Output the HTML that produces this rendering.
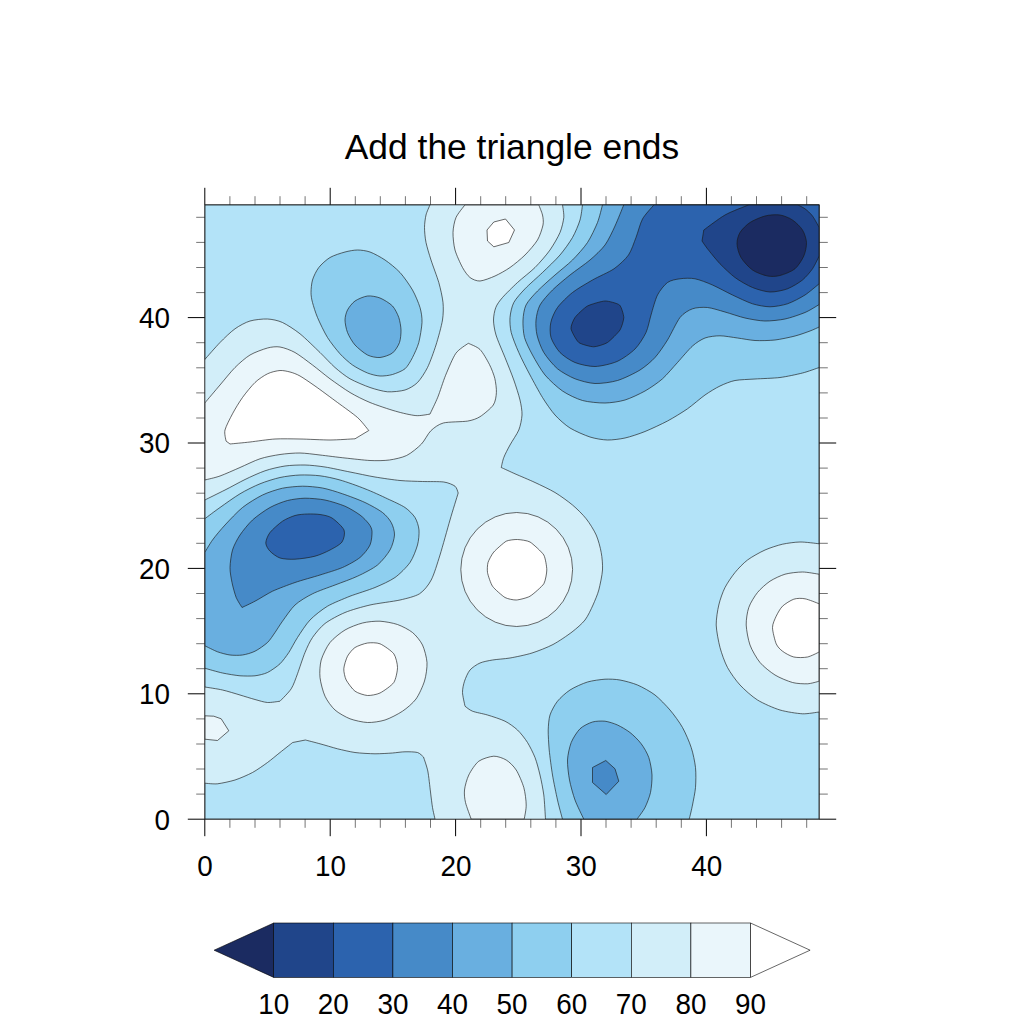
<!DOCTYPE html>
<html><head><meta charset="utf-8"><title>Add the triangle ends</title>
<style>html,body{margin:0;padding:0;background:#fff}body{width:1024px;height:1024px;overflow:hidden;font-family:"Liberation Sans",sans-serif}</style>
</head><body>
<svg width="1024" height="1024" viewBox="0 0 1024 1024" style="display:block">
<defs><clipPath id="fr"><rect x="204.8" y="204.8" width="614.4" height="614.4"/></clipPath></defs>
<rect x="0" y="0" width="1024" height="1024" fill="#fff"/>
<rect x="204.8" y="204.8" width="614.4" height="614.4" fill="#d2eef9"/>
<g clip-path="url(#fr)" stroke="#1a1a1a" stroke-width="0.65" stroke-linejoin="round">
<path d="M204.8 359.5C206.8 357.2 216 346.6 220 342.5C224 338.4 231 331.6 235 328.8C239 325.9 245.7 322.3 250 321C254.3 319.7 263.2 318.8 267.5 319C271.8 319.2 278.2 320.5 282.5 322.5C286.8 324.5 295 329.8 300 333.8C305 337.8 315.3 348 320 352.5C324.7 357 331 364 335 367.5C339 371 345.3 376.1 350 378.8C354.7 381.4 365 385.8 370 387.5C375 389.2 382.8 391.4 387.5 391.8C392.2 392.1 401 391.2 405 390C409 388.8 414.5 385.5 417.5 382.5C420.5 379.5 425 372.5 427.5 367.5C430 362.5 434 351.3 436 345C438 338.7 441.6 325.7 442.5 320C443.4 314.3 443.5 307.5 443 302.5C442.5 297.5 440.4 288.2 438.8 282.5C437.1 276.8 432.7 265.3 431 260C429.3 254.7 426.9 246.8 426 242.5C425.1 238.2 424.5 231.2 424.5 227.5C424.5 223.8 425.3 218 426 215C426.7 212 429.5 206.2 430 204.8L204.8 204.8Z" fill="#b3e3f8"/>
<path d="M562.5 204.8C562.7 206.5 564.1 213.8 563.8 217.5C563.4 221.2 561.8 228.2 560 232.5C558.2 236.8 553.3 245.3 550 250C546.7 254.7 539.3 263.2 535 267.5C530.7 271.8 521.8 278.5 517.5 282.5C513.2 286.5 505.4 294.2 502.5 297.5C499.6 300.8 496.9 304.5 495.8 307.5C494.6 310.5 493.5 316.3 493.5 320C493.5 323.7 494.5 330 496 335C497.5 340 502.6 351.5 505 357.5C507.4 363.5 511.8 374.3 513.8 380C515.8 385.7 518.9 395.3 520 400C521.1 404.7 522.2 411 522 415C521.8 419 520.4 426 518.8 430C517.1 434 512 441.3 510 445C508 448.7 504.9 454.5 503.8 457.5C502.6 460.5 501.6 466.2 501.2 467.5C503.1 468.3 510.5 471.8 515 473.8C519.5 475.8 529.7 480 535 482.5C540.3 485 550 489.5 555 492.5C560 495.5 568.3 501.5 572.5 505C576.7 508.5 583.1 514.8 586.2 518.8C589.4 522.8 594.2 530.5 596.2 535C598.2 539.5 600.4 547.8 601.2 552.5C602.1 557.2 602.8 565 602.5 570C602.2 575 600 585.3 598.8 590C597.5 594.7 594.8 601 593 605C591.2 609 587.8 616.4 585 620C582.2 623.6 576.3 628.7 572 632C567.7 635.3 558.3 641.7 553 644.5C547.7 647.3 537.7 651.2 532 653C526.3 654.8 515.3 657.1 510 658C504.7 658.9 496.5 659.3 492.5 660C488.5 660.7 483 661.7 480 663C477 664.3 472.1 667.6 470 670C467.9 672.4 465.5 678.2 464.5 681.2C463.5 684.2 462.4 689.2 462.5 692.5C462.6 695.8 464.7 704.4 465 706.2C466 706.9 469.5 710.1 472.5 711.2C475.5 712.4 483.2 713.7 487.5 715C491.8 716.3 501 719.2 505 721.2C509 723.2 514.5 727.2 517.5 730C520.5 732.8 525.2 738.8 527.5 742.5C529.8 746.2 533.3 753.2 535 757.5C536.7 761.8 538.8 770 540 775C541.2 780 543 789.1 543.8 795C544.5 800.9 545.3 816 545.5 819.2L819.2 819.2L819.2 712C817 712.2 807.7 714 802.5 713.8C797.3 713.5 786 711.8 780 710C774 708.2 762.8 703.3 757.5 700C752.2 696.7 744 689.3 740 685C736 680.7 730.2 672.5 727.5 667.5C724.8 662.5 721.5 653.2 720 647.5C718.5 641.8 716.4 630.7 716.2 625C716.1 619.3 717.6 610 718.8 605C719.9 600 722.8 591.8 725 587.5C727.2 583.2 732 576.2 735 572.5C738 568.8 743.5 563 747.5 560C751.5 557 760.3 552.1 765 550C769.7 547.9 777.8 545.3 782.5 544.2C787.2 543.2 795.1 542.1 800 542C804.9 541.9 816.6 543.5 819.2 543.8L819.2 204.8Z" fill="#b3e3f8"/>
<path d="M204.8 500C207.5 498.7 219.6 492.7 225 490C230.4 487.3 239.7 482.1 245 479.5C250.3 476.9 259.7 472.6 265 470.8C270.3 468.9 279.7 466.8 285 466C290.3 465.2 299.7 464.9 305 465C310.3 465.1 319 466.1 325 467C331 467.9 343.3 470.7 350 472C356.7 473.3 368.3 475.9 375 477C381.7 478.1 393.7 479.9 400 480.5C406.3 481.1 416.7 481.3 422.5 481.5C428.3 481.7 439.4 481.4 443.8 482C448.1 482.6 453.1 484.8 455 486.2C456.9 487.7 457.8 492.1 458.2 493C457.1 496.6 452.4 511.7 450 520C447.6 528.3 442.5 547 440 555C437.5 563 434 574.8 431.2 580C428.5 585.2 423.7 591.1 419.5 593.8C415.3 596.4 406.6 598.5 400 600C393.4 601.5 377.3 603.3 370 605C362.7 606.7 351 610 345 612.5C339 615 329.3 620.2 325 623.5C320.7 626.8 315.2 633.6 312.5 637.5C309.8 641.4 307 647.7 305 652.5C303 657.3 299.3 668.9 297.5 673.8C295.7 678.6 293.6 685.1 291.2 688.8C288.9 692.4 281.5 699.6 280 701.2C278.3 701.4 270.8 702.7 267.5 702.5C264.2 702.3 258.7 700.5 255 699.5C251.3 698.5 244.3 696.3 240 695C235.7 693.7 227.2 691.1 222.5 690C217.8 688.9 207.2 687.4 204.8 687Z" fill="#b3e3f8"/>
<path d="M204.8 783.2C206.5 783.3 213.5 784.2 217.5 783.8C221.5 783.3 230.3 781.5 235 780C239.7 778.5 248.2 774.8 252.5 772.5C256.8 770.2 263.8 765.2 267.5 762.5C271.2 759.8 276.6 755.2 280 752.5C283.4 749.8 291 743.8 292.7 742.5L305.4 740C307.3 740.5 315.7 742.6 320 743.8C324.3 744.9 332.8 747.6 337.5 748.8C342.2 749.9 350 751.8 355 752.5C360 753.2 370 753.7 375 753.8C380 753.8 388.5 753.3 392.5 753C396.5 752.7 401.7 751.8 405 751.8C408.3 751.7 415 751.8 417.5 752.5C420 753.2 422.7 756.4 423.5 757C424.1 758.9 426.8 766.3 427.8 771C428.7 775.7 429.9 787.1 430.5 792C431.1 796.9 431.9 803.9 432.5 807.5C433.1 811.1 434.7 817.6 435 819.2L204.8 819.2Z" fill="#b3e3f8"/>
<path d="M465 204.8C463.8 206.5 457.6 213.8 456 217.5C454.4 221.2 453.1 228.2 453 232.5C452.9 236.8 453.7 245.3 455 250C456.3 254.7 460.5 263.8 462.5 267.5C464.5 271.2 467.7 275.7 470 277.5C472.3 279.3 476.7 281.2 480 281C483.3 280.8 491 277.8 495 276C499 274.2 506 270.3 510 267.5C514 264.7 521.3 258.7 525 255C528.7 251.3 535.1 244 537.5 240C539.9 236 542.3 228.3 543 225C543.7 221.7 543.1 217.7 542.5 215C541.9 212.3 539.2 206.2 538.8 204.8Z" fill="#eaf6fb"/>
<path d="M204.8 403C206.8 400.6 216 389.7 220 385C224 380.3 231 371.5 235 367.5C239 363.5 245.7 357.6 250 355C254.3 352.4 263.5 349.1 267.5 348C271.5 346.9 276.3 346.4 280 347C283.7 347.6 290.7 350.1 295 352.5C299.3 354.9 307.8 361.5 312.5 365C317.2 368.5 325 375.1 330 378.8C335 382.4 344.7 389.3 350 392.5C355.3 395.7 363.9 400 370 402.5C376.1 405 389.5 409.5 395.6 411.2C401.7 413 411.3 415.2 415.9 415.6C420.5 416 428.1 414.3 430 414.1C431 411.8 435.7 402.4 437.8 397.2C439.9 392 443.2 381.1 445.6 375.3C448 369.5 452.8 357.7 455.8 353.4C458.8 349.1 466.6 344.6 468.3 343.3C469.9 344.1 477.2 346.7 480 349.5C482.8 352.3 487.4 360.5 489.4 364.4C491.4 368.3 493.9 374.7 494.8 378.4C495.7 382.1 496.6 389 496.4 392.5C496.2 396 495.5 401.8 493.3 405C491.1 408.2 483.4 414.6 480 416.7C476.6 418.8 472.4 420.3 467.5 421.1C462.6 421.9 448.2 421.7 443.3 423C438.4 424.3 433.7 428 430.8 430.8C427.9 433.6 424.6 440.8 421.4 444.1C418.2 447.4 410.9 453.4 406.6 455.5C402.3 457.6 394.3 459.3 389.4 460C384.5 460.7 375.9 460.8 370 460.5C364.1 460.2 351.7 458.7 345 458C338.3 457.3 326 455.7 320 455C314 454.3 305.3 453.1 300 453C294.7 452.9 285.3 453.7 280 454.5C274.7 455.3 265.3 457 260 458.8C254.7 460.5 245.3 465.2 240 467.5C234.7 469.8 224.7 474.3 220 476C215.3 477.7 206.8 479.5 204.8 480Z" fill="#eaf6fb"/>
<ellipse cx="516.7" cy="569.5" rx="55.9" ry="57" fill="#eaf6fb"/>
<path d="M320 677.5C319.5 672.7 319.9 664.7 321.2 660C322.6 655.3 326.8 646.5 330 642.5C333.2 638.5 340.7 632.6 345 630C349.3 627.4 357.8 624.2 362.5 623C367.2 621.8 375.3 621 380 621.2C384.7 621.5 393.2 623 397.5 624.5C401.8 626 409.2 629.8 412.5 632.5C415.8 635.2 420.6 641 422.5 645C424.4 649 426.7 657.7 427 662.5C427.3 667.3 426 676.1 424.5 681C423 685.9 418.9 695 416 699C413.1 703 406.6 708.5 402.5 711.2C398.4 714 389.7 718.5 385 720C380.3 721.5 372.2 722.7 367.5 722.5C362.8 722.3 354.3 720.4 350 718.8C345.7 717.1 338.3 713 335 710C331.7 707 327 700.6 325 696.2C323 691.9 320.5 682.3 320 677.5Z" fill="#eaf6fb"/>
<path d="M204.8 715.8L213.8 716.2L221.2 718.8L228.8 730.8L217.5 740.5L204.8 739.2Z" fill="#eaf6fb"/>
<path d="M471.2 819.2C470.5 817 466.4 806.4 465.5 802.5C464.6 798.6 464.1 793.7 464.5 790C464.9 786.3 466.9 778.8 468.8 775C470.6 771.2 475.4 763.8 478.8 761.2C482.1 758.8 490.1 756.4 493.8 756.2C497.4 756.1 503.2 758.2 506.2 760C509.2 761.8 513.9 766.3 516.2 770C518.6 773.7 522.4 782.8 523.8 787.5C525.1 792.2 526.2 800.8 526.2 805C526.3 809.2 524.5 817.3 524.2 819.2Z" fill="#eaf6fb"/>
<path d="M819.2 681.2C817.6 681.6 811.1 683.6 807.5 683.8C803.9 683.9 796.8 683.7 792.5 682.5C788.2 681.3 779.3 677.7 775 675C770.7 672.3 763.3 666.5 760 662.5C756.7 658.5 751.8 650 750 645C748.2 640 746.4 630 746.2 625C746.1 620 747.2 611.8 748.8 607.5C750.2 603.2 754.7 596 757.5 592.5C760.3 589 766.3 583.7 770 581.2C773.7 578.8 780.7 575.5 785 574.2C789.3 573 797.9 572 802.5 572C807.1 572 817 574 819.2 574.2Z" fill="#eaf6fb"/>
<path d="M487 230L493.8 222L505.5 219L514.5 230L508.8 242.5L493.8 246.8L487.5 241Z" fill="#ffffff"/>
<path d="M226 441L230 444C232.7 443.7 244 442.7 250 442C256 441.3 268.3 439.4 275 439C281.7 438.6 292.7 438.9 300 439C307.3 439.1 322.7 440 330 440C337.3 440 351.7 438.9 355 438.8L368.8 430.5C367.2 428.8 361.7 421.2 357.5 417.5C353.3 413.8 343.2 406.7 337.5 402.5C331.8 398.3 320 389.5 315 386C310 382.5 303.3 377.9 300 376C296.7 374.1 292.7 372.7 290 372C287.3 371.3 283 370.3 280 370.5C277 370.7 270.8 372.1 267.5 373.8C264.2 375.4 258.3 379.3 255 382.5C251.7 385.7 245.5 393.3 242.5 397.5C239.5 401.7 234.8 409.4 232.5 413.8C230.2 418.1 225.9 426.4 225 430C224.1 433.6 225.9 439.5 226 441Z" fill="#ffffff"/>
<path d="M506.2 541.2C508.6 540 515.1 539.4 517.5 539.5C519.9 539.6 527.4 540.5 530 542C532.6 543.5 542.1 552.2 543.8 555C545.4 557.8 546.8 567.1 546.8 570C546.8 572.9 545.4 581.1 543.8 583.8C542.1 586.4 532.8 594.6 530 596.2C527.2 597.9 518.8 599.9 516.2 600C513.8 600.1 507.4 598.9 505 597.5C502.6 596.1 494.2 588.8 492.5 586.2C490.8 583.8 487.9 574.9 487.5 572.5C487.1 570.1 487.4 564.5 488 562.5C488.6 560.5 491.9 554.1 493.8 552C495.6 549.9 503.9 542.5 506.2 541.2Z" fill="#ffffff"/>
<path d="M343.8 668.8C343.9 666 346.2 658.7 347.5 656.2C348.8 653.8 352.7 649 355 647.5C357.3 646 364.6 643.4 367.5 643C370.4 642.6 376.9 642.5 380 643.8C383.1 645 391.7 651 393.8 653.8C395.8 656.5 397.5 664.1 397.5 667.5C397.5 670.9 395.8 679.5 393.8 682.5C391.7 685.5 383.1 691.5 380 693C376.9 694.5 370.4 695.7 367.5 695.5C364.6 695.3 357.5 693.1 355 691.2C352.5 689.4 347.6 682.6 346.2 680C344.9 677.4 343.6 671.5 343.8 668.8Z" fill="#ffffff"/>
<path d="M819.2 603.8C817.3 603.1 808.4 599.4 805 598.8C801.6 598.1 796.8 598.2 793.8 599.2C790.8 600.2 784.8 604 782.5 606.2C780.2 608.5 777.6 613.4 776.2 616.2C774.9 619.1 772.5 623.8 772.5 627.5C772.5 631.2 774.9 640.6 776.2 643.8C777.6 646.9 780.2 649.5 782.5 651.2C784.8 653 790.4 656.2 793.8 657C797.1 657.8 804.1 657.7 807.5 657C810.9 656.3 817.6 652.7 819.2 652Z" fill="#ffffff"/>
<path d="M311 292.5C311 289.5 311.5 283.3 312.5 280C313.5 276.7 316.4 270.5 318.8 267.5C321.1 264.5 326.5 259.6 330 257.5C333.5 255.4 341.3 253 345 252C348.7 251 354.2 250 357.5 250C360.8 250 366.3 250.7 370 252C373.7 253.3 381 257.3 385 260C389 262.7 396.3 268.5 400 272.5C403.7 276.5 409.8 285.3 412.5 290C415.2 294.7 418.7 303.2 420 307.5C421.3 311.8 422.2 317.8 422 322.5C421.8 327.2 420 337.8 418.8 342.5C417.5 347.2 414.3 354 412.5 357.5C410.7 361 407.7 366.5 405 368.8C402.3 371 395.8 373.5 392.5 374.5C389.2 375.5 383.3 376.2 380 376C376.7 375.8 371.2 374.5 367.5 373C363.8 371.5 356.2 367.6 352.5 365C348.8 362.4 343.3 357.4 340 353.8C336.7 350.1 330.5 342.3 327.5 337.5C324.5 332.7 319.5 322.2 317.5 317.5C315.5 312.8 313.4 305.8 312.5 302.5C311.6 299.2 311 295.5 311 292.5Z" fill="#8ecfef"/>
<path d="M582.5 204.8C582.2 206.8 581.3 215.6 580 220C578.7 224.4 575.2 232.8 572.5 237.5C569.8 242.2 564 250.3 560 255C556 259.7 547.2 268 542.5 272.5C537.8 277 528.8 284.8 525 288.8C521.2 292.8 515.8 298.7 513.8 302.5C511.8 306.3 510.3 313.5 510 317.5C509.7 321.5 510.1 327.8 511.2 332.5C512.4 337.2 516.2 346.8 518.8 352.5C521.2 358.2 526.8 369 530 375C533.2 381 539.2 392.2 542.5 397.5C545.8 402.8 551.3 410.9 555 415C558.7 419.1 565.3 425.1 570 428C574.7 430.9 585 435.4 590 437C595 438.6 602.8 439.9 607.5 440C612.2 440.1 620 439.1 625 438C630 436.9 639.3 433.8 645 431.5C650.7 429.2 661.8 424 667.5 421C673.2 418 682.5 412.2 687.5 408.8C692.5 405.3 700.7 398 705 395C709.3 392 716 387.9 720 386C724 384.1 730.3 381.4 735 380.5C739.7 379.6 749 379.4 755 379C761 378.6 773.7 378.3 780 377.5C786.3 376.7 797.3 374.3 802.5 373C807.7 371.7 817 368.2 819.2 367.5L819.2 204.8Z" fill="#8ecfef"/>
<path d="M204.8 518.8C206.8 517.2 215.3 510.8 220 507.5C224.7 504.2 234.7 496.9 240 493.8C245.3 490.6 254.7 485.9 260 483.8C265.3 481.6 274.7 478.7 280 477.5C285.3 476.3 294.7 475.2 300 475C305.3 474.8 314.7 475.1 320 475.8C325.3 476.4 334 478.3 340 480C346 481.7 358.7 486.2 365 488.8C371.3 491.2 382.2 496.2 387.5 498.8C392.8 501.2 401.3 505 405 507.5C408.7 510 413.1 514.5 415 517.5C416.9 520.5 418.7 526.3 419 530C419.3 533.7 418.7 540.7 417.5 545C416.3 549.3 413 558.2 410 562.5C407 566.8 399.7 574.2 395 577.5C390.3 580.8 381 585 375 587.5C369 590 356.3 593.8 350 596.2C343.7 598.8 332.8 603.1 327.5 606.2C322.2 609.4 314 615.8 310 620C306 624.2 300.3 633.2 297.5 637.5C294.7 641.8 291.1 649 288.8 652.5C286.4 656 282.8 661.1 280 663.8C277.2 666.4 270.8 670.9 267.5 672.5C264.2 674.1 258.7 675.3 255 675.8C251.3 676.2 244.3 676.1 240 675.8C235.7 675.4 227.2 674 222.5 673C217.8 672 207.2 668.9 204.8 668.2Z" fill="#8ecfef"/>
<path d="M562.5 819.2C561.8 816.6 558.8 805.9 557.5 800C556.2 794.1 553.6 781.7 552.5 775C551.4 768.3 549.8 756 549.2 750C548.7 744 548.1 734.7 548.2 730C548.4 725.3 548.8 718.8 550 715C551.2 711.2 554.8 704.6 557.5 701.2C560.2 697.9 566 692.6 570 690C574 687.4 582.8 683.4 587.5 682C592.2 680.6 600.7 679.5 605 679.2C609.3 679 615.7 679.2 620 680C624.3 680.8 632.8 683 637.5 685C642.2 687 650.7 691.7 655 695C659.3 698.3 666.3 705.7 670 710C673.7 714.3 679.7 722.5 682.5 727.5C685.3 732.5 689.5 742.2 691.2 747.5C693 752.8 694.9 762.2 695.5 767.5C696.1 772.8 695.9 782.5 695.5 787.5C695.1 792.5 693.3 800.8 692.5 805C691.7 809.2 689.7 817.3 689.2 819.2Z" fill="#8ecfef"/>
<path d="M345 320C345 317 346.2 312.5 347.5 310C348.8 307.5 352.3 302.9 355 301C357.7 299.1 364.2 296.4 367.5 296C370.8 295.6 376.7 296.7 380 298C383.3 299.3 390 303.4 392.5 306C395 308.6 397.6 314.3 398.8 317.5C399.9 320.7 400.9 326.7 401 330C401.1 333.3 400.6 339.4 399.5 342.5C398.4 345.6 395.1 351 392.5 353C389.9 355 383.3 357.2 380 357.5C376.7 357.8 370.8 356.7 367.5 355C364.2 353.3 357.7 348 355 345C352.3 342 348.8 335.8 347.5 332.5C346.2 329.2 345 323 345 320Z" fill="#69afe0"/>
<path d="M602.5 204.8C601.8 207.2 599.5 217.5 597.5 222.5C595.5 227.5 590.8 237.5 587.5 242.5C584.2 247.5 576.8 255.7 572.5 260C568.2 264.3 559.7 270.9 555 275C550.3 279.1 541.4 287 537.5 291C533.6 295 527.9 301.1 526 305C524.1 308.9 523.2 315.7 523 320C522.8 324.3 523.2 332.8 524.5 337.5C525.8 342.2 529.8 350 532.5 355C535.2 360 541 370.2 545 375C549 379.8 557.5 387.6 562.5 391C567.5 394.4 576.8 398.9 582.5 400.5C588.2 402.1 599.3 403.1 605 403C610.7 402.9 619.7 401.6 625 400C630.3 398.4 640 393.8 645 391C650 388.2 658.2 382.6 662.5 378.8C666.8 374.9 673.5 366.9 677.5 362.5C681.5 358.1 688.8 349.3 692.5 346C696.2 342.7 701.3 339.4 705 338C708.7 336.6 715.7 335.8 720 335.8C724.3 335.8 732.8 337.4 737.5 338C742.2 338.6 750 340.2 755 340.5C760 340.8 769.7 340.6 775 340C780.3 339.4 790.3 337.2 795 336C799.7 334.8 806.8 332.2 810 331C813.2 329.8 818 327.5 819.2 327L819.2 204.8Z" fill="#69afe0"/>
<path d="M204.8 552.5C205.8 550.8 209.8 543.7 212.5 540C215.2 536.3 221 529.3 225 525C229 520.7 237.5 511.5 242.5 507.5C247.5 503.5 257.2 497.6 262.5 495C267.8 492.4 277.2 489.4 282.5 488.2C287.8 487.1 297.2 486.3 302.5 486.2C307.8 486.2 317.2 487 322.5 488C327.8 489 336.8 491.8 342.5 493.8C348.2 495.7 359.7 500 365 502.5C370.3 505 379 509.8 382.5 512.5C386 515.2 389.6 519.5 391.2 522.5C392.9 525.5 394.7 531.3 394.5 535C394.3 538.7 392.3 546 390 550C387.7 554 381.8 561.5 377.5 565C373.2 568.5 363.2 573.6 357.5 576.2C351.8 578.9 341 582.7 335 585C329 587.3 317.8 591.1 312.5 593.8C307.2 596.4 299 601.3 295 605C291 608.7 285.2 617.6 282.5 621.2C279.8 624.9 277 629.7 275 632.5C273 635.3 270.2 640 267.5 642.5C264.8 645 258.3 649.6 255 651.2C251.7 652.9 245.8 654.5 242.5 655C239.2 655.5 233.3 655.4 230 655C226.7 654.6 220.9 653 217.5 651.8C214.1 650.5 206.5 646.5 204.8 645.8Z" fill="#69afe0"/>
<path d="M583.8 819.2C582.6 816.6 576.9 805.2 575 800C573.1 794.8 570.5 785.3 569.5 780C568.5 774.7 567.3 765 567.5 760C567.7 755 569.6 746.7 571.2 742.5C572.9 738.3 577.2 731.5 580 728.8C582.8 726 589.2 723 592.5 722C595.8 721 601.7 720.9 605 721.2C608.3 721.6 614.2 723.5 617.5 725C620.8 726.5 626.8 730 630 732.5C633.2 735 638.8 740.4 641.2 743.8C643.8 747.1 647.3 753.3 648.8 757.5C650.2 761.7 651.8 770.3 652 775C652.2 779.7 651.4 788.2 650.5 792.5C649.6 796.8 646.8 803.9 645 807.5C643.2 811.1 638.1 817.6 637 819.2Z" fill="#69afe0"/>
<path d="M623.8 204.8C622.6 207.6 617.5 220.6 615 226C612.5 231.4 608.3 240.5 605 245C601.7 249.5 594.7 256 590 260C585.3 264 575 271 570 275C565 279 556.5 286 552.5 290C548.5 294 542.2 301 540 305C537.8 309 536.4 316 536 320C535.6 324 536 330.7 537 335C538 339.3 541 348 543.8 352.5C546.5 357 553.3 365.2 557.5 368.8C561.7 372.2 570 376.8 575 378.8C580 380.7 589.3 383.3 595 383.5C600.7 383.7 611.5 382.3 617.5 380.5C623.5 378.7 635 373.1 640 370C645 366.9 651.3 361.5 655 357.5C658.7 353.5 664.2 345.3 667.5 340C670.8 334.7 676.7 321.7 680 317.5C683.3 313.3 688.8 310.1 692.5 308.8C696.2 307.4 703.2 307.1 707.5 307.5C711.8 307.9 720 310.6 725 312C730 313.4 739.7 316.8 745 318C750.3 319.2 759.7 320.9 765 321C770.3 321.1 779.7 320.1 785 319C790.3 317.9 800.4 314.4 805 312.5C809.6 310.6 817.3 305.6 819.2 304.5L819.2 204.8Z" fill="#468ac8"/>
<path d="M242 607.5C241.2 606.2 237.6 600.8 236.2 597.5C234.9 594.2 232.8 586.5 232 582.5C231.2 578.5 229.9 571.8 230 567.5C230.1 563.2 231.2 554.3 232.5 550C233.8 545.7 237.3 539 240 535C242.7 531 248.5 523.7 252.5 520C256.5 516.3 265.3 510.1 270 507.5C274.7 504.9 282.8 501.7 287.5 500.5C292.2 499.3 300 498.3 305 498.2C310 498.2 319.7 498.9 325 500C330.3 501.1 340.3 504.2 345 506.2C349.7 508.2 356.8 512.7 360 515C363.2 517.3 367.1 521.6 368.8 523.8C370.4 525.9 371.8 528.4 372 531.2C372.2 534.1 371.6 541.5 370 545C368.4 548.5 363.7 554.5 360 557.5C356.3 560.5 347.8 565.2 342.5 567.5C337.2 569.8 326.3 573 320 575C313.7 577 301.3 580.3 295 582.5C288.7 584.7 277.8 588.8 272.5 591.2C267.2 593.8 259.1 599.1 255 601.2C250.9 603.4 243.7 606.7 242 607.5Z" fill="#468ac8"/>
<path d="M592.5 767.5L605.8 760.5L615 768.8L618.8 781.2L606.2 794.5L592.5 782.5Z" fill="#468ac8"/>
<path d="M654 204.8C652.5 206.7 644.9 214.6 642.5 219C640.1 223.4 637.9 232.7 636 237.5C634.1 242.3 631.4 250.8 628.5 255C625.6 259.2 618.8 265.4 614 268.8C609.2 272.1 598 276.8 592.5 280C587 283.2 577.2 288.8 572.5 292.5C567.8 296.2 560.4 303.5 557.5 307.5C554.6 311.5 551.6 318.5 550.8 322.5C549.9 326.5 549.8 333.5 551 337.5C552.2 341.5 556.8 349.2 560 352.5C563.2 355.8 570.3 360.6 575 362.5C579.7 364.4 589.4 366.6 595 366.5C600.6 366.4 611.7 363.8 617 361.5C622.3 359.2 631.1 352.9 635 349C638.9 345.1 643.9 337 646 332.5C648.1 328 649.5 320 651 315C652.5 310 655.3 299.3 657.5 295C659.7 290.7 664.5 284.7 667.5 282.5C670.5 280.3 676.3 279.2 680 278.8C683.7 278.2 690.7 277.9 695 278.8C699.3 279.6 707.5 282.8 712.5 285C717.5 287.2 727.2 292.5 732.5 295C737.8 297.5 747.5 302.2 752.5 303.8C757.5 305.3 765.3 306.8 770 306.8C774.7 306.8 782.8 305.3 787.5 303.8C792.2 302.2 800.8 297.7 805 295C809.2 292.3 817.3 285.2 819.2 283.8L819.2 204.8Z" fill="#2c63ae"/>
<path d="M265.8 543C265.8 540.5 267.8 535.4 270 532.5C272.2 529.6 279.2 523.5 282.5 521.2C285.8 519 291.7 516.5 295 515.5C298.3 514.5 304.2 514.1 307.5 514C310.8 513.9 316.7 514 320 514.5C323.3 515 328.8 515.9 332 518C335.2 520.1 342.7 526.8 344 530C345.3 533.2 343.9 539.3 342 542C340.1 544.7 333.6 548.1 330 550C326.4 551.9 319.7 555 315 556.2C310.3 557.5 299.7 559 295 559.2C290.3 559.5 283.3 559.1 280 558C276.7 556.9 271.9 553.2 270 551.2C268.1 549.2 265.8 545.5 265.8 543Z" fill="#2c63ae"/>
<path d="M571 328.8C570.6 326.2 573.4 319.8 575 317.5C576.6 315.2 584.5 307.6 587.5 306C590.5 304.4 601.8 301.1 605 301C608.2 300.9 617.6 303.4 619.5 305C621.4 306.6 623.7 315 623.8 317.5C623.8 320 621.6 327.5 620 330C618.4 332.5 610.1 340.8 607.5 342.5C604.9 344.2 596.6 346.8 593.8 346.8C590.9 346.8 581 344.3 578.8 342.5C576.5 340.7 571.4 331.2 571 328.8Z" fill="#20458a"/>
<path d="M748.8 204.8C745.6 206.2 731 211.6 725 215C719 218.4 706.6 228 703.8 230L702 241C702.7 242 705.1 245.7 707.5 248.8C709.9 251.8 716.3 259.9 720 263.8C723.7 267.6 730.7 274.3 735 277.5C739.3 280.7 747.8 285.6 752.5 287.5C757.2 289.4 765.3 291.8 770 292C774.7 292.2 783.2 290.4 787.5 288.8C791.8 287.1 799.2 282.7 802.5 280C805.8 277.3 810.3 271.9 812.5 268.8C814.7 265.6 818.3 257.7 819.2 256L819.2 227.5C818.3 226 814.4 218.5 812.5 216C810.6 213.5 807 210.2 805 208.8C803 207.3 798.5 205.3 797.5 204.8Z" fill="#20458a"/>
<path d="M737 243.8C736.9 240.2 738.2 235.5 740 232.5C741.8 229.5 746.5 224.8 750 222.5C753.5 220.2 760.8 217.1 765 216C769.2 214.9 776.1 214.4 780 215C783.9 215.6 789.4 217.9 792.5 220C795.6 222.1 800.5 226.8 802.5 230C804.5 233.2 806.3 238.9 806.5 242.5C806.7 246.1 805.4 252.3 803.8 256C802.1 259.7 798.3 266 795 268.8C791.7 271.5 783.9 274.5 780 275.5C776.1 276.5 771.4 276.8 767.5 276C763.6 275.2 756.2 272.6 752.5 270C748.8 267.4 743.2 261.2 741 257.5C738.8 253.8 737.1 247.2 737 243.8Z" fill="#1b2b61"/>
</g>
<path d="M204.8 819.2V836.2M204.8 204.8V187.8M204.8 819.2H187.8M819.2 819.2H836.2M330.2 819.2V836.2M330.2 204.8V187.8M204.8 693.8H187.8M819.2 693.8H836.2M455.6 819.2V836.2M455.6 204.8V187.8M204.8 568.4H187.8M819.2 568.4H836.2M581 819.2V836.2M581 204.8V187.8M204.8 443H187.8M819.2 443H836.2M706.4 819.2V836.2M706.4 204.8V187.8M204.8 317.6H187.8M819.2 317.6H836.2" stroke="#000" stroke-width="1.0" fill="none"/>
<path d="M229.9 819.2V827.8M229.9 204.8V196.2M204.8 794.1H196.2M819.2 794.1H827.8M255 819.2V827.8M255 204.8V196.2M204.8 769H196.2M819.2 769H827.8M280 819.2V827.8M280 204.8V196.2M204.8 744H196.2M819.2 744H827.8M305.1 819.2V827.8M305.1 204.8V196.2M204.8 718.9H196.2M819.2 718.9H827.8M355.3 819.2V827.8M355.3 204.8V196.2M204.8 668.7H196.2M819.2 668.7H827.8M380.3 819.2V827.8M380.3 204.8V196.2M204.8 643.7H196.2M819.2 643.7H827.8M405.4 819.2V827.8M405.4 204.8V196.2M204.8 618.6H196.2M819.2 618.6H827.8M430.5 819.2V827.8M430.5 204.8V196.2M204.8 593.5H196.2M819.2 593.5H827.8M480.7 819.2V827.8M480.7 204.8V196.2M204.8 543.3H196.2M819.2 543.3H827.8M505.7 819.2V827.8M505.7 204.8V196.2M204.8 518.3H196.2M819.2 518.3H827.8M530.8 819.2V827.8M530.8 204.8V196.2M204.8 493.2H196.2M819.2 493.2H827.8M555.9 819.2V827.8M555.9 204.8V196.2M204.8 468.1H196.2M819.2 468.1H827.8M606 819.2V827.8M606 204.8V196.2M204.8 418H196.2M819.2 418H827.8M631.1 819.2V827.8M631.1 204.8V196.2M204.8 392.9H196.2M819.2 392.9H827.8M656.2 819.2V827.8M656.2 204.8V196.2M204.8 367.8H196.2M819.2 367.8H827.8M681.3 819.2V827.8M681.3 204.8V196.2M204.8 342.7H196.2M819.2 342.7H827.8M731.4 819.2V827.8M731.4 204.8V196.2M204.8 292.6H196.2M819.2 292.6H827.8M756.5 819.2V827.8M756.5 204.8V196.2M204.8 267.5H196.2M819.2 267.5H827.8M781.6 819.2V827.8M781.6 204.8V196.2M204.8 242.4H196.2M819.2 242.4H827.8M806.7 819.2V827.8M806.7 204.8V196.2M204.8 217.3H196.2M819.2 217.3H827.8" stroke="#000" stroke-width="0.55" fill="none"/>
<rect x="204.8" y="204.8" width="614.4" height="614.4" fill="none" stroke="#111" stroke-width="0.9"/>
<text x="512" y="158.5" font-size="35.4" text-anchor="middle" font-family="Liberation Sans, sans-serif" fill="#000">Add the triangle ends</text>
<text transform="translate(205.1 875.8) scale(0.985 1.07)" font-size="28.3" text-anchor="middle" font-family="Liberation Sans, sans-serif" fill="#000">0</text>
<text transform="translate(169.9 829.5) scale(0.985 1.07)" font-size="28.3" text-anchor="end" font-family="Liberation Sans, sans-serif" fill="#000">0</text>
<text transform="translate(330.5 875.8) scale(0.985 1.07)" font-size="28.3" text-anchor="middle" font-family="Liberation Sans, sans-serif" fill="#000">10</text>
<text transform="translate(169.9 704.1) scale(0.985 1.07)" font-size="28.3" text-anchor="end" font-family="Liberation Sans, sans-serif" fill="#000">10</text>
<text transform="translate(455.9 875.8) scale(0.985 1.07)" font-size="28.3" text-anchor="middle" font-family="Liberation Sans, sans-serif" fill="#000">20</text>
<text transform="translate(169.9 578.7) scale(0.985 1.07)" font-size="28.3" text-anchor="end" font-family="Liberation Sans, sans-serif" fill="#000">20</text>
<text transform="translate(581.3 875.8) scale(0.985 1.07)" font-size="28.3" text-anchor="middle" font-family="Liberation Sans, sans-serif" fill="#000">30</text>
<text transform="translate(169.9 453.3) scale(0.985 1.07)" font-size="28.3" text-anchor="end" font-family="Liberation Sans, sans-serif" fill="#000">30</text>
<text transform="translate(706.7 875.8) scale(0.985 1.07)" font-size="28.3" text-anchor="middle" font-family="Liberation Sans, sans-serif" fill="#000">40</text>
<text transform="translate(169.9 327.9) scale(0.985 1.07)" font-size="28.3" text-anchor="end" font-family="Liberation Sans, sans-serif" fill="#000">40</text>
<g stroke="#000" stroke-width="0.6">
<path d="M273.7 923L214.1 950.2L273.7 977.4Z" fill="#1b2b61"/>
<rect x="273.7" y="923" width="59.6" height="54.4" fill="#20458a"/>
<rect x="333.3" y="923" width="59.6" height="54.4" fill="#2c63ae"/>
<rect x="392.9" y="923" width="59.6" height="54.4" fill="#468ac8"/>
<rect x="452.5" y="923" width="59.6" height="54.4" fill="#69afe0"/>
<rect x="512.1" y="923" width="59.6" height="54.4" fill="#8ecfef"/>
<rect x="571.7" y="923" width="59.6" height="54.4" fill="#b3e3f8"/>
<rect x="631.3" y="923" width="59.6" height="54.4" fill="#d2eef9"/>
<rect x="690.9" y="923" width="59.6" height="54.4" fill="#eaf6fb"/>
<path d="M750.5 923L810.1 950.2L750.5 977.4Z" fill="#ffffff"/>
</g>
<text transform="translate(273.7 1014.1) scale(0.985 1.07)" font-size="28.3" text-anchor="middle" font-family="Liberation Sans, sans-serif" fill="#000">10</text>
<text transform="translate(333.3 1014.1) scale(0.985 1.07)" font-size="28.3" text-anchor="middle" font-family="Liberation Sans, sans-serif" fill="#000">20</text>
<text transform="translate(392.9 1014.1) scale(0.985 1.07)" font-size="28.3" text-anchor="middle" font-family="Liberation Sans, sans-serif" fill="#000">30</text>
<text transform="translate(452.5 1014.1) scale(0.985 1.07)" font-size="28.3" text-anchor="middle" font-family="Liberation Sans, sans-serif" fill="#000">40</text>
<text transform="translate(512.1 1014.1) scale(0.985 1.07)" font-size="28.3" text-anchor="middle" font-family="Liberation Sans, sans-serif" fill="#000">50</text>
<text transform="translate(571.7 1014.1) scale(0.985 1.07)" font-size="28.3" text-anchor="middle" font-family="Liberation Sans, sans-serif" fill="#000">60</text>
<text transform="translate(631.3 1014.1) scale(0.985 1.07)" font-size="28.3" text-anchor="middle" font-family="Liberation Sans, sans-serif" fill="#000">70</text>
<text transform="translate(690.9 1014.1) scale(0.985 1.07)" font-size="28.3" text-anchor="middle" font-family="Liberation Sans, sans-serif" fill="#000">80</text>
<text transform="translate(750.5 1014.1) scale(0.985 1.07)" font-size="28.3" text-anchor="middle" font-family="Liberation Sans, sans-serif" fill="#000">90</text>
</svg>
</body></html>
